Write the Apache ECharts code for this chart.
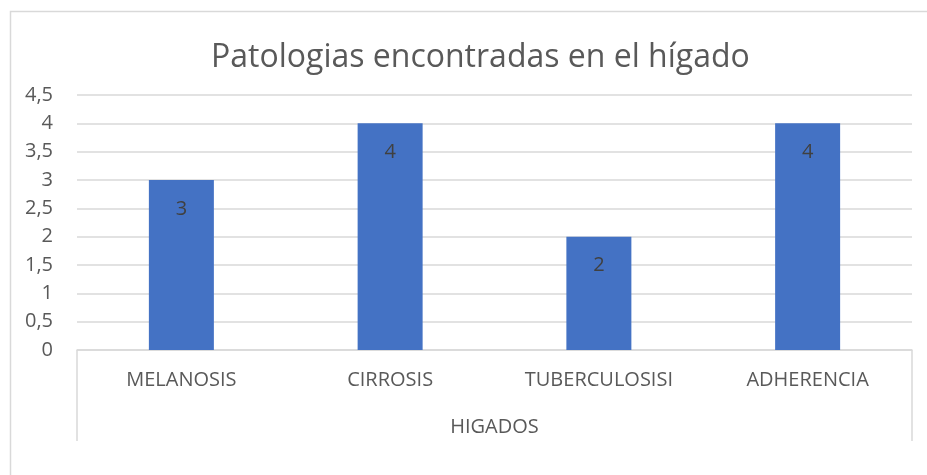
<!DOCTYPE html>
<html>
<head>
<meta charset="utf-8">
<script src="https://cdn.jsdelivr.net/npm/echarts@6/dist/echarts.min.js"></script>
<style>
  html, body { margin: 0; padding: 0; background: #fff; }
  #chart { width: 927px; height: 475px; }
</style>
</head>
<body>
<div id="chart"></div>
<script>
document.addEventListener('DOMContentLoaded', function () {
    var myChart = echarts.init(document.getElementById('chart'));

    const categories = ['MELANOSIS', 'CIRROSIS', 'TUBERCULOSISI', 'ADHERENCIA'];
    const values = [3, 4, 2, 4];
    const groupLabel = ['HIGADOS'];

    const textColor = '#595959';
    const lineColor = '#d9d9d9';
    const fontFamily = 'Open Sans, Liberation Sans, sans-serif';

    var option = {
        backgroundColor: '#fff',
        animation: false,
        textStyle: { fontFamily: fontFamily },
        title: {
            text: 'Patologias encontradas en el hígado',
            left: 206,
            top: 37,
            textStyle: {
                fontSize: 32,
                fontWeight: 'normal',
                color: textColor,
                fontFamily: fontFamily
            }
        },
        graphic: [{
            type: 'rect',
            shape: { x: 10.5, y: 11.5, width: 940, height: 500 },
            style: { fill: 'none', stroke: lineColor, lineWidth: 1.5 },
            silent: true
        }],
        grid: {
            left: 77,
            right: 15,
            top: 95,
            bottom: 125
        },
        xAxis: [
            {
                type: 'category',
                data: categories,
                axisLine: { lineStyle: { color: lineColor, width: 1.5 } },
                axisTick: { show: false },
                axisLabel: { color: textColor, fontSize: 20, margin: 20 }
            },
            {
                type: 'category',
                data: groupLabel,
                position: 'bottom',
                axisLine: { show: false },
                axisTick: { show: true, length: 91, lineStyle: { color: lineColor, width: 1.5 } },
                axisLabel: { color: textColor, fontSize: 20, margin: 67 }
            }
        ],
        yAxis: {
            type: 'value',
            min: 0,
            max: 4.5,
            interval: 0.5,
            axisLine: { show: false },
            axisTick: { show: false },
            splitLine: { lineStyle: { color: lineColor, width: 1.5 } },
            axisLabel: {
                color: textColor,
                fontSize: 20,
                margin: 24,
                formatter: function (v) { return String(v).replace('.', ','); }
            }
        },
        series: [{
            type: 'bar',
            data: values,
            xAxisIndex: 0,
            barWidth: 65,
            itemStyle: { color: '#4472c4' },
            label: {
                show: true,
                position: 'insideTop',
                distance: 19,
                color: '#404040',
                fontSize: 20
            }
        }]
    };

    option && myChart.setOption(option);

    window.addEventListener('resize', function () {
        myChart.resize();
    });
});
</script>
</body>
</html>
